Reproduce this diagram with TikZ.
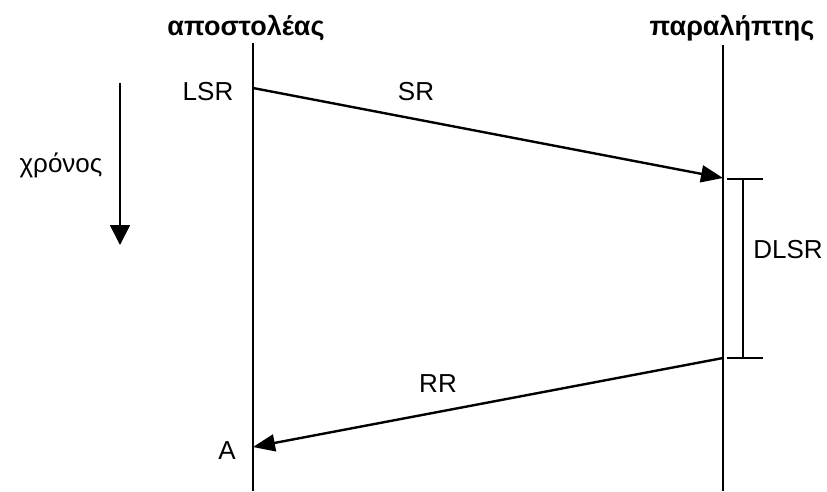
\documentclass[tikz,border=0pt]{standalone}
\usepackage{fontspec}
\setmainfont{Liberation Sans}
\usetikzlibrary{arrows.meta}
\begin{document}
\begin{tikzpicture}[x=1pt,y=-1pt,
  lbl/.style={font=\fontsize{26}{30}\selectfont, inner sep=0pt},
  ttl/.style={font=\fontsize{27}{31}\selectfont\bfseries, inner sep=0pt},
  life/.style={line width=2.6pt},
  msg/.style={line width=2.4pt,-{Triangle[length=22pt,width=17pt]}},
  brk/.style={line width=1.8pt}]
\useasboundingbox (0,0) rectangle (827,491);
% titles
\node[ttl] (snd) at (246,28) {αποστολέας};
\node[ttl] (rcv) at (732,28) {παραλήπτης};
% lifelines
\coordinate (sTop) at (253,43);
\coordinate (sBot) at (253,491);
\coordinate (rTop) at (723,45);
\coordinate (rBot) at (723,491);
\draw[life] (sTop) -- (sBot);
\draw[life] (rTop) -- (rBot);
% messages
\coordinate (lsrPt) at (253,88);
\coordinate (srEnd) at (723,178);
\coordinate (rrStart) at (723,358);
\coordinate (aPt) at (253,447);
\draw[msg] (lsrPt) -- (srEnd);
\draw[msg] (rrStart) -- (aPt);
\node[lbl] (lsr) at (208,92) {LSR};
\node[lbl] (sr) at (416,92) {SR};
\node[lbl] (rr) at (438,384) {RR};
\node[lbl] (a) at (227,451) {A};
% DLSR bracket
\coordinate (bTop) at (743,179);
\coordinate (bBot) at (743,358);
\draw[brk] (727,179) -- (763,179);
\draw[brk] (727,358) -- (763,358);
\draw[brk] (bTop) -- (bBot);
\node[lbl] (dlsr) at (788,250) {DLSR};
% time arrow
\coordinate (tTop) at (120,83);
\coordinate (tBot) at (120,245);
\draw[line width=1.8pt,-{Triangle[length=20pt,width=20pt]}] (tTop) -- (tBot);
\node[lbl] (time) at (61,165) {χρόνος};
\end{tikzpicture}
\end{document}
